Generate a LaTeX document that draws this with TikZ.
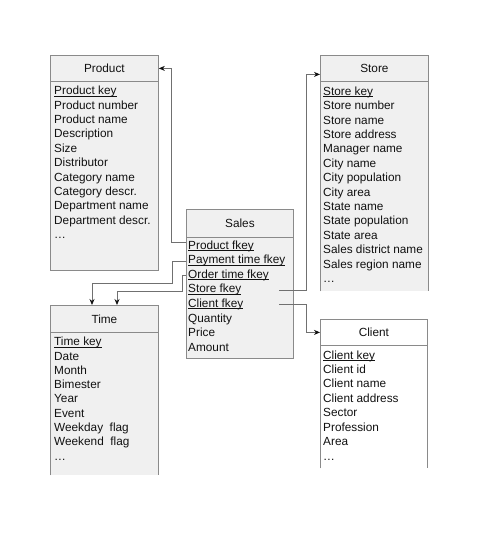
\documentclass[tikz,border=0pt]{standalone}
\usepackage{fontspec}
\setmainfont{Liberation Sans}
\usetikzlibrary{arrows.meta}
\definecolor{BoxFill}{HTML}{F0F0F0}
\definecolor{BoxLine}{HTML}{8A8A8A}
\definecolor{Wire}{HTML}{707070}
\definecolor{Ink}{HTML}{111111}
\newcommand\keyattr[1]{\setbox0\hbox{#1}\rlap{\rule[-1.7pt]{\wd0}{0.65pt}}\box0}

\begin{document}
\begin{tikzpicture}[x=1pt,y=-1pt,
  head/.style={draw=BoxLine,fill=BoxFill,line width=0.8pt,anchor=north west,
    inner sep=0pt,font=\fontsize{11.8}{14}\selectfont,text=Ink},
  body/.style={fill=BoxFill,anchor=north west,inner sep=0pt},
  attr/.style={anchor=base west,inner sep=0pt,font=\fontsize{11.8}{14}\selectfont,text=Ink},
  link/.style={Wire,line width=0.8pt,-{Stealth[length=6pt,width=5pt,Ink]}}]
  \useasboundingbox (0,0) rectangle (479,535);
  % tables
  \node[body,draw=BoxLine,line width=0.8pt,minimum width=108pt,minimum height=189pt] (product-b) at (50,81) {};
  \node[head,minimum width=108pt,minimum height=26pt] (product-h) at (50,55) {Product};
  \node[body,minimum width=108pt,minimum height=210pt] (store-b) at (320,81) {};
  \draw[BoxLine,line width=0.8pt] (store-b.south west) -- (store-b.north west)
    (store-b.north east) -- (store-b.south east);
  \node[head,minimum width=108pt,minimum height=26pt] (store-h) at (320,55) {Store};
  \node[body,draw=BoxLine,line width=0.8pt,minimum width=107pt,minimum height=121pt] (sales-b) at (186,237) {};
  \node[head,minimum width=107pt,minimum height=28pt] (sales-h) at (186,209) {Sales};
  \node[body,minimum width=108pt,minimum height=143pt] (time-b) at (50,332) {};
  \draw[BoxLine,line width=0.8pt] (time-b.south west) -- (time-b.north west)
    (time-b.north east) -- (time-b.south east);
  \node[head,minimum width=108pt,minimum height=27pt] (time-h) at (50,305) {Time};
  \node[body,fill=white,minimum width=107pt,minimum height=123pt] (client-b) at (320,345) {};
  \draw[BoxLine,line width=0.8pt] (client-b.south west) -- (client-b.north west)
    (client-b.north east) -- (client-b.south east);
  \node[head,fill=white,minimum width=107pt,minimum height=26pt] (client-h) at (320,319) {Client};
  % attributes
  \foreach \lab [count=\i from 0] in {\keyattr{Product key},Product number,Product name,
      Description,Size,Distributor,Category name,Category descr.,Department name,
      Department descr.,\ldots}
    \node[attr] (p\i) at (54,{94.7+14.4*\i}) {\lab};
  \foreach \lab [count=\i from 0] in {\keyattr{Store key},Store number,Store name,
      Store address,Manager name,City name,City population,City area,State name,
      State population,State area,Sales district name,Sales region name,\ldots}
    \node[attr] (st\i) at (323,{95.2+14.4*\i}) {\lab};
  \foreach \lab [count=\i] in {\keyattr{Product fkey},\keyattr{Payment time fkey},
      \keyattr{Order time fkey},\keyattr{Store fkey},\keyattr{Client fkey},
      Quantity,Price,Amount}
    \node[attr] (s\i) at (188,{249+14.6*(\i-1)}) {\lab};
  \foreach \lab [count=\i from 0] in {\keyattr{Time key},Date,Month,Bimester,Year,
      Event,Weekday~~flag,Weekend~~flag,\ldots}
    \node[attr] (t\i) at (54,{345.7+14.3*\i}) {\lab};
  \foreach \lab [count=\i from 0] in {\keyattr{Client key},Client id,Client name,
      Client address,Sector,Profession,Area,\ldots}
    \node[attr] (c\i) at (323,{359+14.45*\i}) {\lab};
  % foreign keys
  \path (s4.mid west) ++(91,0) coordinate (storeout);
  \path (s5.mid west) ++(91,0) coordinate (clientout);
  \draw[link] ([yshift=4pt]s1.mid west -| sales-b.west) -- ++(-15,0) |- (product-h.east);
  \draw[link] (s2.mid west -| sales-b.west) -- ++(-14,0) -- ++(0,22) -| ([xshift=42pt]time-h.north west);
  \draw[link] (s3.mid west -| sales-b.west) -- ++(-4,0) -- ++(0,16) -| ([xshift=67pt]time-h.north west);
  \draw[link] (storeout) -- ++(27,0) |- ([yshift=-6pt]store-h.west);
  \draw[link] (clientout) -- ++(27,0) |- (client-h.west);
\end{tikzpicture}
\end{document}
